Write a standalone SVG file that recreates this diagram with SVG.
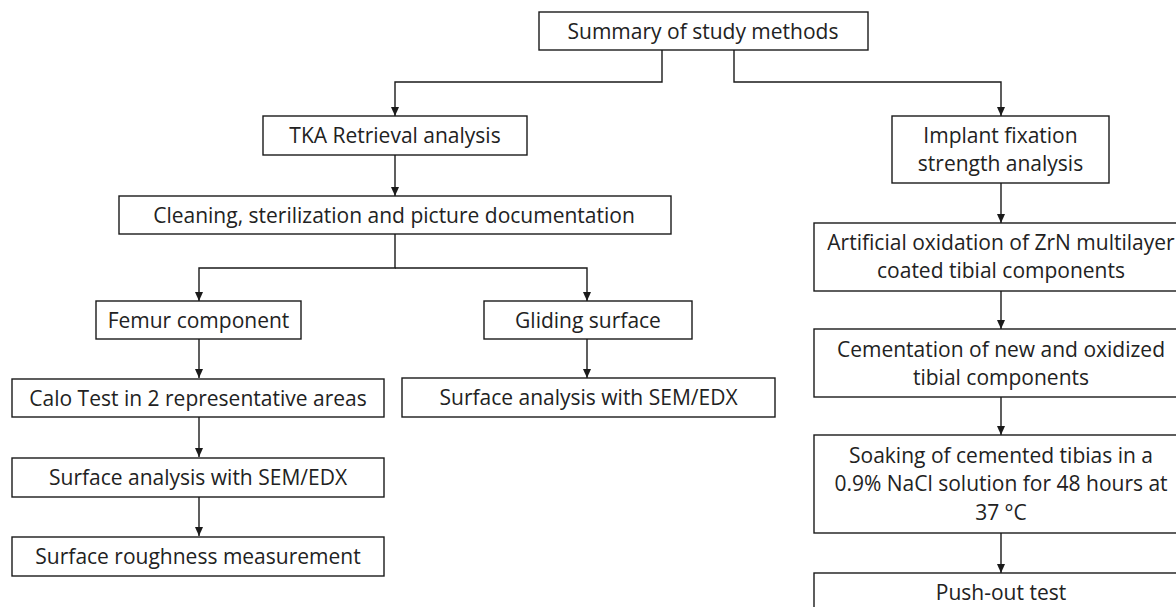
<svg xmlns="http://www.w3.org/2000/svg" width="1176" height="607" viewBox="0 0 1176 607">
<defs>
<marker id="arr" markerUnits="userSpaceOnUse" markerWidth="10" markerHeight="10" viewBox="0 0 10 10" refX="9" refY="5" orient="auto">
<path d="M0,1 L9,5 L0,9 Z" fill="#1a1a1a"/>
</marker>
<style>
.box{fill:#fff;stroke:#1a1a1a;stroke-width:1.4}
.t{font-family:"Open Sans","Noto Sans","Liberation Sans",sans-serif;font-size:21px;fill:#222;text-anchor:middle}
.c{fill:none;stroke:#1a1a1a;stroke-width:1.4;marker-end:url(#arr)}
</style>
</defs>
<rect width="1176" height="607" fill="#fff"/>
<g id="connectors">
<path class="c" d="M662,50 V82 H395 V116"/>
<path class="c" d="M734,50 V82 H1001 V116"/>
<path class="c" d="M395,155 V196"/>
<path class="c" d="M395,234 V268 H199 V301"/>
<path class="c" d="M395,268 H587 V301"/>
<path class="c" d="M199,339 V378"/>
<path class="c" d="M199,417 V457"/>
<path class="c" d="M199,497 V536"/>
<path class="c" d="M587,339 V378"/>
<path class="c" d="M1001,183 V223"/>
<path class="c" d="M1001,291 V329"/>
<path class="c" d="M1001,397 V435"/>
<path class="c" d="M1001,533 V573"/>
</g>
<g id="summary"><rect class="box" x="539" y="12" width="329" height="38"/><text class="t" x="703" y="39">Summary of study methods</text></g>
<g id="tka"><rect class="box" x="263" y="116" width="264" height="39"/><text class="t" x="395" y="143">TKA Retrieval analysis</text></g>
<g id="cleaning"><rect class="box" x="119" y="196" width="552" height="38"/><text class="t" x="394" y="223">Cleaning, sterilization and picture documentation</text></g>
<g id="femur"><rect class="box" x="96" y="301" width="205" height="38"/><text class="t" x="198.5" y="328">Femur component</text></g>
<g id="calo"><rect class="box" x="12" y="379" width="372" height="38"/><text class="t" x="198" y="406">Calo Test in 2 representative areas</text></g>
<g id="sem1"><rect class="box" x="12" y="458" width="372" height="39"/><text class="t" x="198" y="485">Surface analysis with SEM/EDX</text></g>
<g id="roughness"><rect class="box" x="12" y="537" width="372" height="39"/><text class="t" x="198" y="564">Surface roughness measurement</text></g>
<g id="gliding"><rect class="box" x="484" y="301" width="208" height="38"/><text class="t" x="588" y="328">Gliding surface</text></g>
<g id="sem2"><rect class="box" x="402" y="378" width="373" height="39"/><text class="t" x="588.5" y="405">Surface analysis with SEM/EDX</text></g>
<g id="implant"><rect class="box" x="892" y="116" width="217" height="67"/><text class="t" x="1000.5" y="143">Implant fixation</text><text class="t" x="1000.5" y="171">strength analysis</text></g>
<g id="oxidation"><rect class="box" x="814" y="223" width="374" height="68"/><text class="t" x="1001" y="250">Artificial oxidation of ZrN multilayer</text><text class="t" x="1001" y="278">coated tibial components</text></g>
<g id="cementation"><rect class="box" x="814" y="329" width="374" height="68"/><text class="t" x="1001" y="357">Cementation of new and oxidized</text><text class="t" x="1001" y="385">tibial components</text></g>
<g id="soaking"><rect class="box" x="814" y="435" width="374" height="98"/><text class="t" x="1001" y="463">Soaking of cemented tibias in a</text><text class="t" x="1001" y="491">0.9% NaCl solution for 48 hours at</text><text class="t" x="1001" y="520">37 °C</text></g>
<g id="pushout"><rect class="box" x="814" y="573" width="374" height="60"/><text class="t" x="1001" y="600">Push-out test</text></g>
</svg>
